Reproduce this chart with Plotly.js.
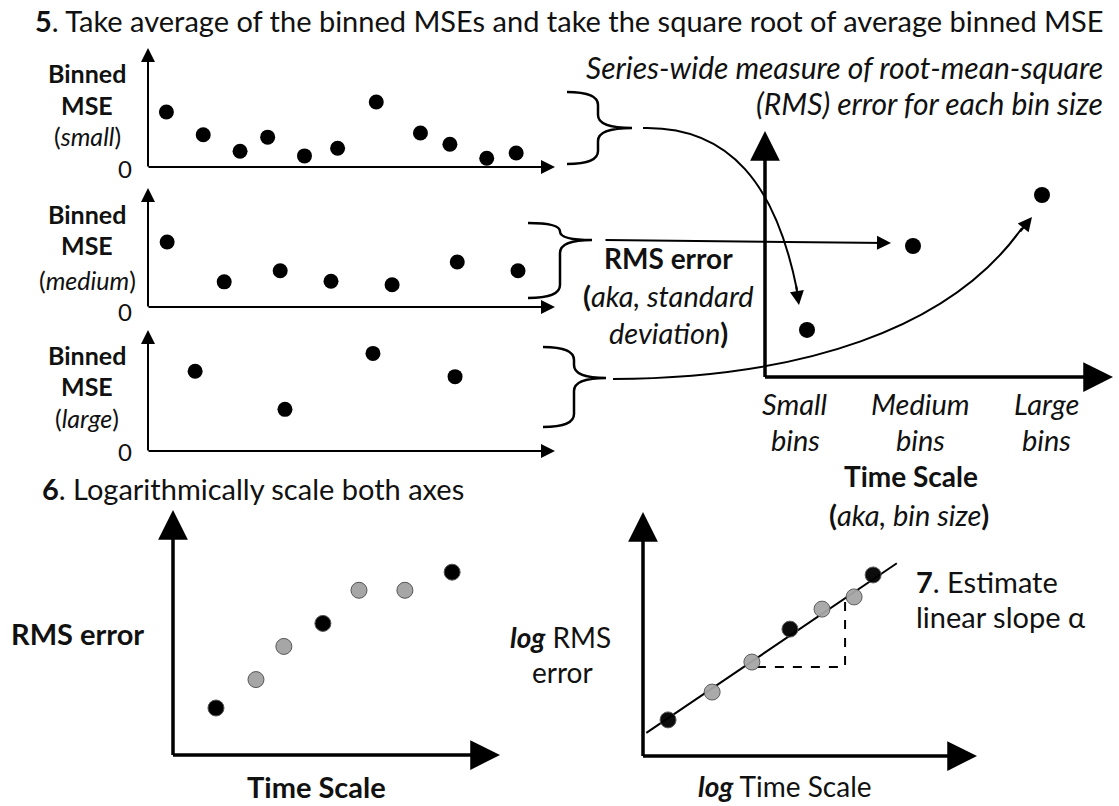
<!DOCTYPE html>
<html><head><meta charset="utf-8">
<script src="https://cdn.plot.ly/plotly-3.0.1.min.js"></script>
<style>html,body{margin:0;padding:0;background:#fff}#chart{width:1119px;height:806px}</style>
</head><body><div id="chart"></div>
<script>
// ---------------- data ----------------
const smallBinX   = [0.5, 1.5, 2.5, 3.25, 4.25, 5.15, 6.2, 7.4, 8.2, 9.2, 10.0];
const smallBinMSE = [4.7, 2.75, 1.35, 2.55, 0.95, 1.6, 5.55, 2.9, 1.95, 0.75, 1.2];
const mediumBinX   = [0.52, 2.07, 3.59, 4.97, 6.63, 8.4, 10.05];
const mediumBinMSE = [5.55, 2.15, 3.1, 2.2, 1.9, 3.85, 3.1];
const largeBinX   = [1.28, 3.72, 6.11, 8.34];
const largeBinMSE = [6.7, 3.5, 8.2, 6.25];

const binSizeLabels = ['Small', 'Medium', 'Large'];
const binSizeX  = [0.42, 1.48, 2.77];
const rmsError  = [1.93, 5.37, 7.46];

const timeScale = [1.28, 2.5, 3.35, 4.54, 5.64, 7.04, 8.48];
const rmsAll    = [2.0, 3.21, 4.62, 5.6, 7.01, 7.01, 7.78];
const pointKind = ['bin', 'extra', 'extra', 'bin', 'extra', 'extra', 'bin'];

const logTimeScale = [0.75, 2.07, 3.26, 4.4, 5.36, 6.32, 6.89];
const logRms       = [1.48, 2.62, 3.85, 5.2, 6.02, 6.52, 7.42];
const fitX = [0.1, 7.6];
const fitY = [0.95, 7.9];
const slopeX = [3.41, 6.05, 6.05];
const slopeY = [3.65, 3.65, 6.31];

// ---------------- layout geometry (pixels) ----------------
const W = 1119, H = 806;
const F = 'Lato, "Open Sans", sans-serif';
const px = x => x / W, py = y => 1 - y / H;
const panels = {
  p1: {x0:148, x1:555, yb:167, yt:48},
  p2: {x0:148, x1:555, yb:307, yt:188},
  p3: {x0:148, x1:555, yb:451, yt:330},
  p4: {x0:765, x1:1113, yb:377, yt:131},
  p6: {x0:173, x1:500, yb:755, yt:510},
  p7: {x0:643, x1:977, yb:756, yt:512}
};
function ax(p, xr, yr, n) {
  const a = {};
  a['xaxis' + n] = {domain:[px(p.x0), px(p.x1)], range:xr, visible:false, fixedrange:true};
  a['yaxis' + n] = {domain:[py(p.yb), py(p.yt)], range:yr, visible:false, fixedrange:true};
  if (n) { a['xaxis' + n].anchor = 'y' + n; a['yaxis' + n].anchor = 'x' + n; }
  return a;
}
function yr(k, readTop) { const p = panels[k]; return [0, 10 * (p.yb - p.yt) / (p.yb - readTop)]; }
function xr(k, readX1, span) { const p = panels[k]; return [0, span * (p.x1 - p.x0) / (readX1 - p.x0)]; }

const black = {color:'#000', size:15};
const colorFor = k => k === 'bin' ? '#000' : '#a6a6a6';
const traces = [
  {x:smallBinX, y:smallBinMSE, xaxis:'x', yaxis:'y', mode:'markers', marker:black},
  {x:mediumBinX, y:mediumBinMSE, xaxis:'x2', yaxis:'y2', mode:'markers', marker:black},
  {x:largeBinX, y:largeBinMSE, xaxis:'x3', yaxis:'y3', mode:'markers', marker:black},
  {x:binSizeX, y:rmsError, xaxis:'x4', yaxis:'y4', mode:'markers', marker:{color:'#000', size:16}},
  {x:timeScale, y:rmsAll, xaxis:'x5', yaxis:'y5', mode:'markers',
   marker:{color:pointKind.map(colorFor), size:16, line:{color:'#555', width:1}}},
  {x:fitX, y:fitY, xaxis:'x6', yaxis:'y6', mode:'lines', line:{color:'#000', width:2}},
  {x:slopeX, y:slopeY, xaxis:'x6', yaxis:'y6', mode:'lines', line:{color:'#000', width:2, dash:'dash'}},
  {x:logTimeScale, y:logRms, xaxis:'x6', yaxis:'y6', mode:'markers',
   marker:{color:pointKind.map(colorFor), size:16, line:{color:'#555', width:1}, opacity:0.95}}
];

const layout = Object.assign({
  width:W, height:H, margin:{l:0, r:0, t:0, b:0}, showlegend:false,
  paper_bgcolor:'#fff', plot_bgcolor:'rgba(0,0,0,0)',
  xaxis7:{domain:[0,1], range:[0,W], visible:false, anchor:'y7', fixedrange:true},
  yaxis7:{domain:[0,1], range:[H,0], visible:false, anchor:'x7', fixedrange:true}
},
  ax(panels.p1, xr('p1', 553, 11), yr('p1', 50), ''),
  ax(panels.p2, xr('p2', 553, 11), yr('p2', 190), '2'),
  ax(panels.p3, xr('p3', 553, 11), yr('p3', 332), '3'),
  ax(panels.p4, xr('p4', 1115, 3.5), yr('p4', 133), '4'),
  ax(panels.p6, xr('p6', 500, 10), yr('p6', 520), '5'),
  ax(panels.p7, [0,10], [0,10], '6')
);
layout.xaxis5.range = [-0.03, 10 * (500 - 173) / (500 - 172) - 0.03];

const ann = [];
function arrow(x0, y0, x1, y1, w, size, head) {
  ann.push({xref:'x7', yref:'y7', axref:'x7', ayref:'y7', x:x1, y:y1, ax:x0, ay:y0,
    showarrow:true, arrowhead:head || 2, arrowsize:size, arrowwidth:w, arrowcolor:'#000', text:''});
}
function txt(x, y, t, size, anchor) {
  ann.push({xref:'x7', yref:'y7', x:x, y:y, text:t, showarrow:false,
    xanchor:anchor || 'center', yanchor:'middle', font:{family:F, size:size, color:'#111'}});
}
// axes as arrows
['p1','p2','p3'].forEach(k => { const p = panels[k];
  arrow(p.x0, p.yb + 1, p.x0, p.yt, 2, 1.4, 2);
  arrow(p.x0 - 1, p.yb, p.x1, p.yb, 2, 1.4, 2);
});
['p4','p6','p7'].forEach(k => { const p = panels[k];
  arrow(p.x0, p.yb + 1.5, p.x0, p.yt, 3.5, 1.7, 2);
  arrow(p.x0 - 1.5, p.yb, p.x1, p.yb, 3.5, 1.7, 2);
});
// connectors
arrow(604, 240, 891, 243, 2, 1.4, 2);
arrow(796, 285, 799, 305, 2, 1.4, 2);
arrow(1019, 233, 1032, 217, 2, 1.4, 2);

// texts
txt(33, 20, '<b>5</b>. Take average of the binned MSEs and take the square root of average binned MSE', 29, 'left');
txt(1105, 67, '<i>Series-wide measure of root-mean-square</i>', 30, 'right');
txt(1105, 103, '<i>(RMS) error for each bin size</i>', 30, 'right');
const mseLabels = [['small', 73, 105, 136, 168], ['medium', 214, 245, 280, 311], ['large', 355, 386, 418, 451]];
mseLabels.forEach(m => {
  txt(87, m[1], '<b>Binned</b>', 25);
  txt(87, m[2], '<b>MSE</b>', 25);
  txt(87, m[3], '(<i>' + m[0] + '</i>)', 25);
  txt(125, m[4], '0', 24);
});
txt(668, 258, '<b>RMS error</b>', 28);
txt(668, 295, '<b>(</b><i>aka, standard</i>', 29);
txt(668, 332, '<i>deviation</i><b>)</b>', 29);
const labX = [795, 920, 1046];
binSizeLabels.forEach((l, i) => {
  txt(labX[i], 403, '<i>' + l + '</i>', 29);
  txt(labX[i], 439, '<i>bins</i>', 29);
});
txt(911, 476, '<b>Time Scale</b>', 28);
txt(909, 514, '<b>(</b><i>aka, bin size</i><b>)</b>', 29);
txt(40, 488, '<b>6</b>. Logarithmically scale both axes', 29, 'left');
txt(77, 633, '<b>RMS error</b>', 29);
txt(316, 786, '<b>Time Scale</b>', 29);
txt(560, 637, '<b><i>log</i></b> RMS', 28);
txt(562, 672, 'error', 28);
txt(785, 786, '<b><i>log</i></b> Time Scale', 28);
txt(914, 581, '<b>7</b>. Estimate', 29, 'left');
txt(914, 616, 'linear slope \u03b1', 29, 'left');
layout.annotations = ann;

// shapes: braces and curved connectors
function brace(xl, xs, xt, yt, ym, yb) {
  const r1 = Math.min(13, (ym - yt) / 2), r2 = Math.min(13, (yb - ym) / 2);
  return `M ${xl},${yt} Q ${xs},${yt} ${xs},${yt + r1} L ${xs},${ym - r1} Q ${xs},${ym} ${xt},${ym} ` +
         `M ${xt},${ym} Q ${xs},${ym} ${xs},${ym + r2} L ${xs},${yb - r2} Q ${xs},${yb} ${xl},${yb}`;
}
const shp = (path, w) => ({type:'path', xref:'x7', yref:'y7', path:path, line:{color:'#000', width:w || 2.5}});
layout.shapes = [
  shp(brace(567, 598, 632, 92, 128, 164)),
  shp(brace(528, 560, 592, 223, 240, 298)),
  shp(brace(543, 574, 606, 347, 378, 427)),
  shp('M 643,128 C 730,126 776,185 797,290', 2),
  shp('M 613,379 C 800,378 950,330 1022,228', 2)
];

Plotly.newPlot('chart', traces, layout, {staticPlot:true, displayModeBar:false});
</script></body></html>
